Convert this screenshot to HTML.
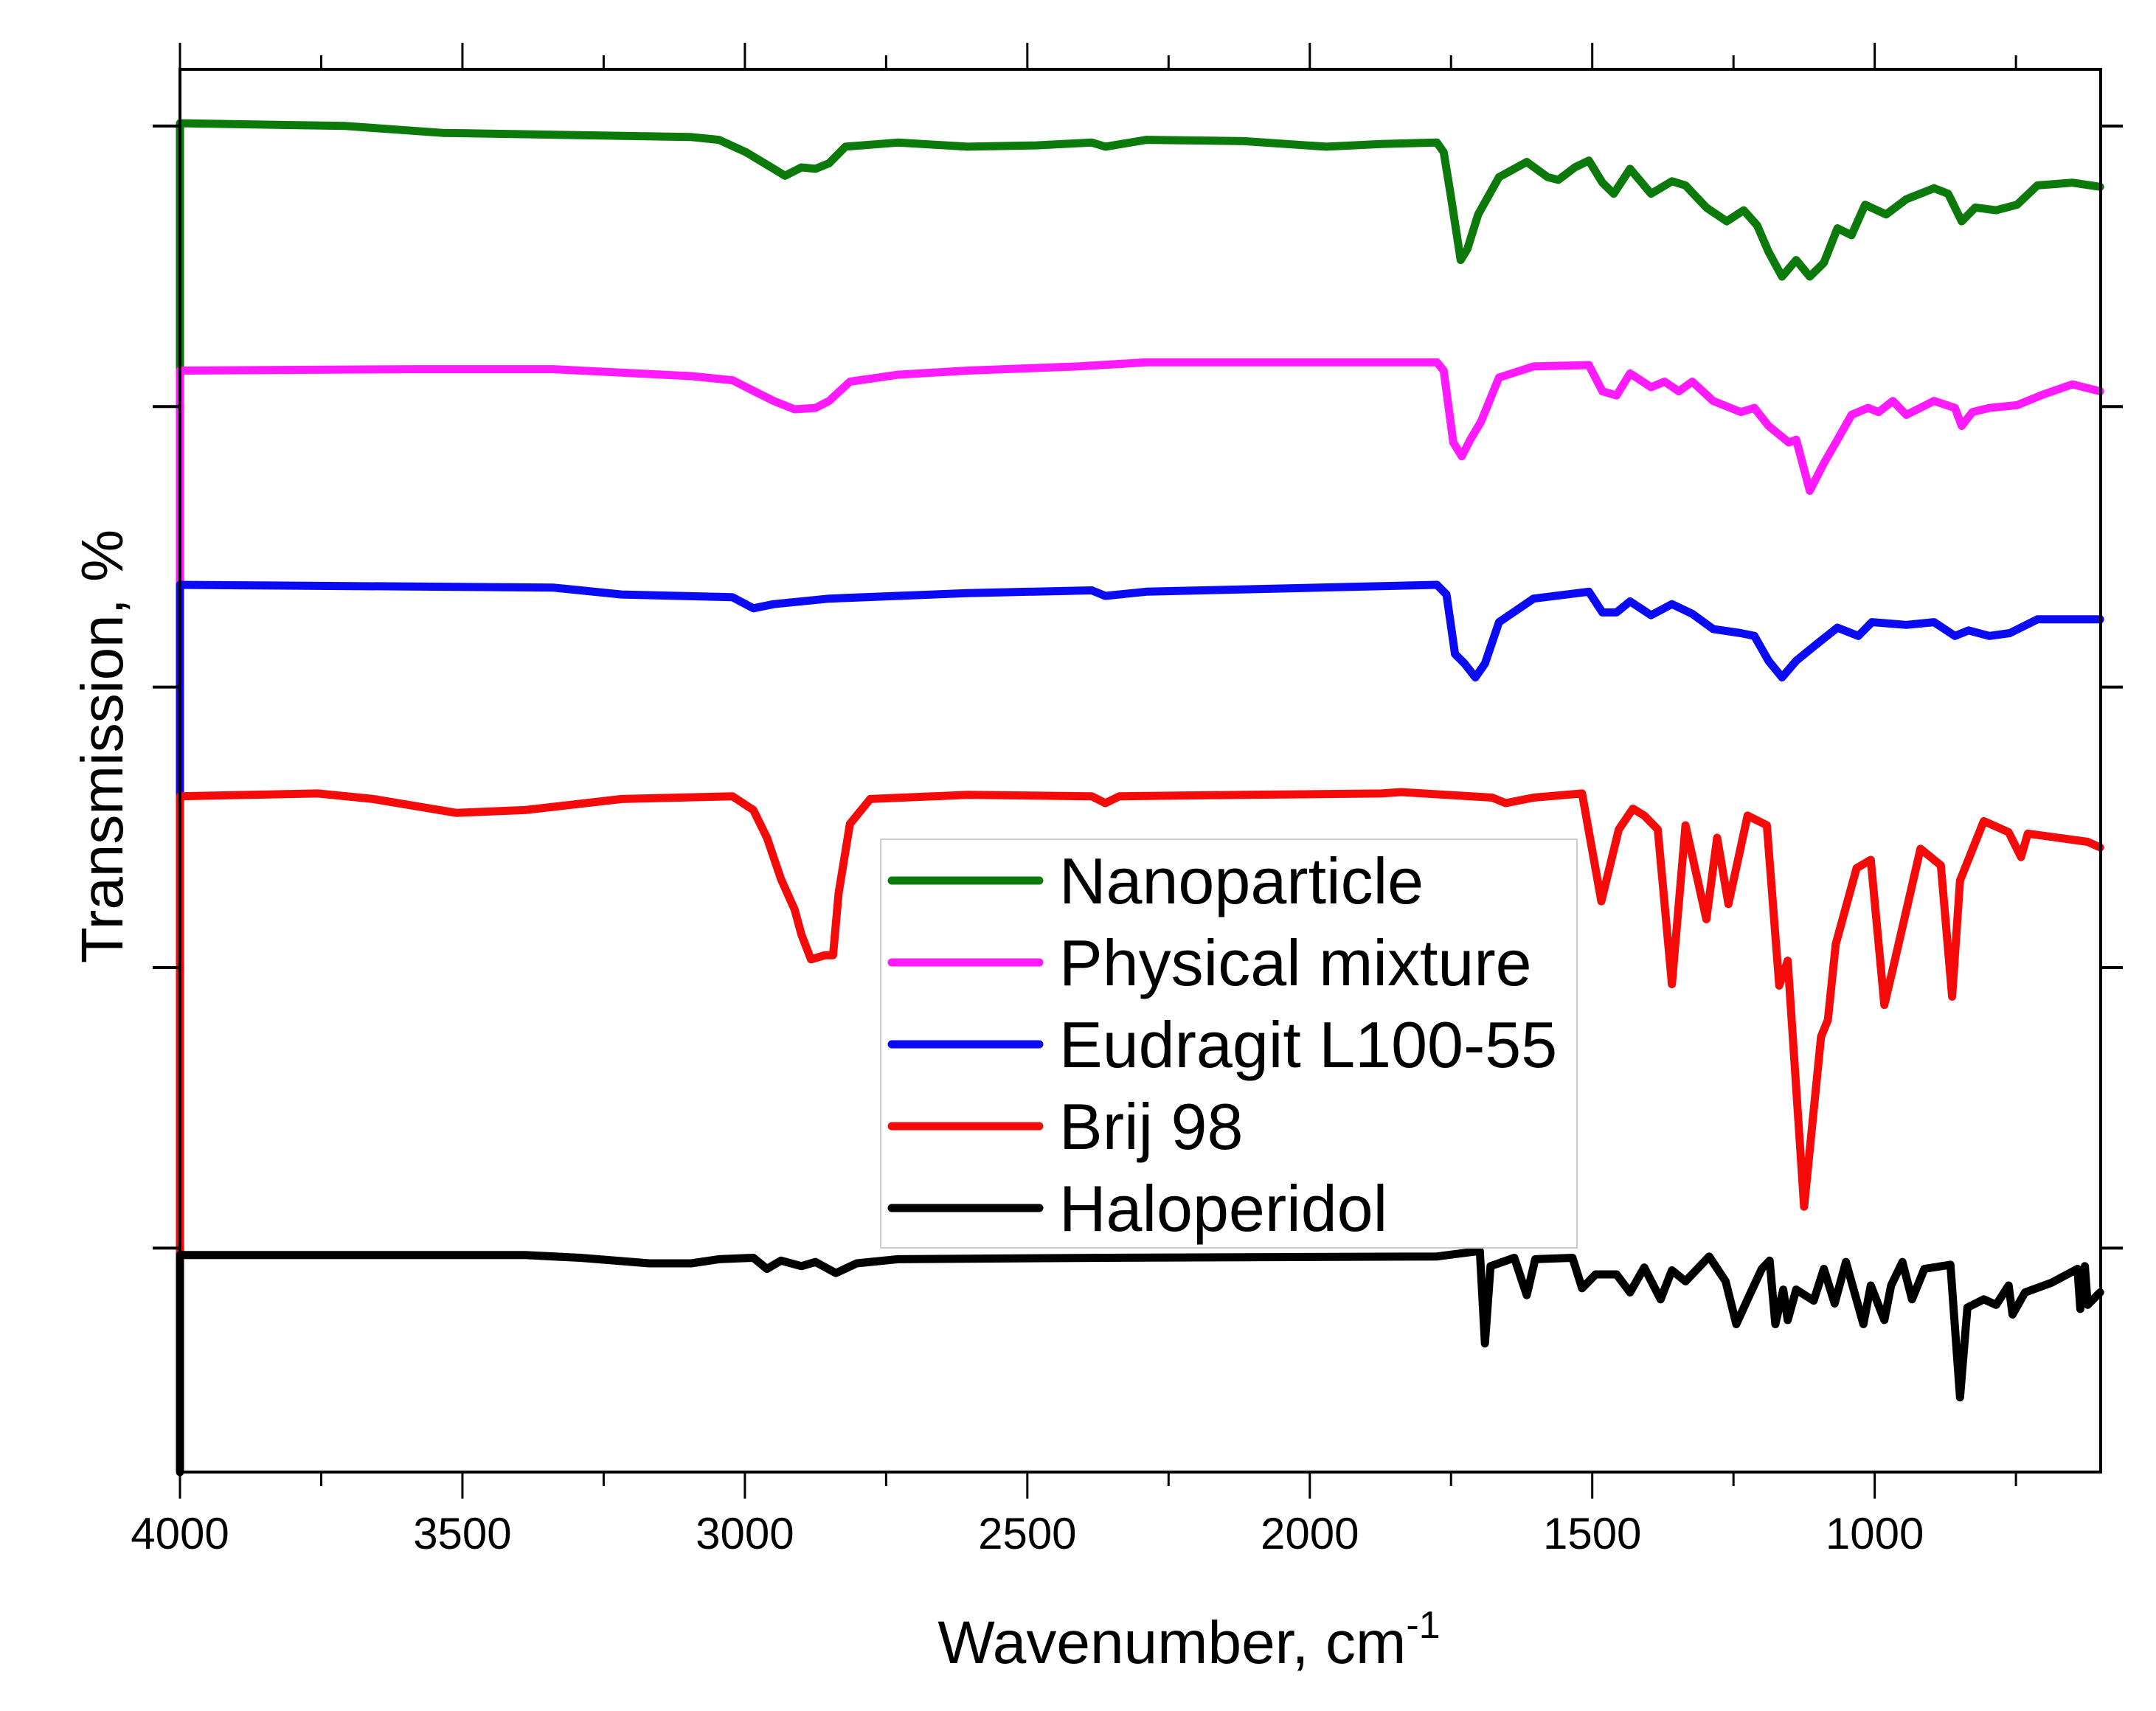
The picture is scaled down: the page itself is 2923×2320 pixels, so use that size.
<!DOCTYPE html>
<html><head><meta charset="utf-8">
<style>
html,body{margin:0;padding:0;background:#fff;}
svg{display:block;font-family:"Liberation Sans",Arial,sans-serif;}
</style></head>
<body>
<svg id="chart" width="2923" height="2320" viewBox="0 0 2923 2320" xmlns="http://www.w3.org/2000/svg">
<rect x="0" y="0" width="2923" height="2320" fill="#fff"/>
<g id="series"></g>
<g id="axes"></g>
<text x="1612" y="2255" text-anchor="middle" font-size="82">Wavenumber, cm<tspan dy="-34" font-size="52">-1</tspan></text>
<text transform="translate(166,1012) rotate(-90)" text-anchor="middle" font-size="80">Transmission, %</text>
<g id="legend"></g>
</svg>
<script>
const xTicksMajor = [4000,3500,3000,2500,2000,1500,1000];
const xTicksMinor = [3750,3250,2750,2250,1750,1250,750];
const yTicks = [974,771,568,365,162];
const seriesNames = ["Nanoparticle","Physical mixture","Eudragit L100-55","Brij 98","Haloperidol"];
const seriesColors = ["#0b7a0b","#ff1aff","#0a0af5","#f50a0a","#000000"];
const nanoparticle = [[4000,565],[4000,976],[3707,974],[3535,969],[3095,966],[3046,964],[2998,955],[2949,943],[2929,938],[2900,944],[2875,943],[2851,947],[2822,959],[2729,962],[2606,959],[2484,960],[2386,962],[2362,959],[2289,964],[2117,963],[1971,959],[1873,961],[1775,962],[1763,955],[1751,925],[1733,877],[1721,885],[1702,910],[1665,937],[1616,948],[1579,937],[1560,935],[1531,944],[1506,949],[1482,933],[1462,925],[1433,943],[1396,925],[1359,934],[1335,931],[1298,915],[1262,905],[1232,913],[1208,902],[1188,883],[1164,865],[1139,877],[1115,865],[1090,875],[1066,900],[1041,895],[1017,917],[980,910],[944,921],[895,929],[870,925],[846,905],[822,915],[785,913],[748,917],[712,931],[650,933],[601,930]];
const physicalMixture = [[4000,405],[4000,797],[3584,798],[3340,798],[3095,793],[3022,790],[2949,775],[2912,769],[2875,770],[2851,775],[2814,789],[2729,794],[2606,797],[2411,800],[2289,803],[1775,803],[1763,797],[1746,745],[1731,735],[1716,747],[1697,760],[1665,792],[1604,800],[1506,801],[1482,782],[1457,779],[1433,795],[1396,785],[1372,789],[1347,782],[1323,789],[1286,775],[1237,767],[1213,770],[1188,757],[1152,745],[1139,747],[1115,710],[1090,730],[1066,747],[1041,765],[1012,770],[993,767],[968,775],[944,765],[895,775],[858,770],[846,757],[827,767],[797,770],[748,772],[700,780],[650,787],[601,782]];
const eudragit = [[4000,240],[4000,642],[3340,640],[3218,635],[3022,633],[2985,625],[2949,628],[2851,632],[2606,636],[2386,638],[2362,634],[2289,637],[1775,642],[1758,635],[1743,592],[1726,585],[1707,575],[1690,585],[1665,615],[1604,632],[1506,637],[1482,622],[1457,622],[1433,630],[1396,620],[1359,628],[1323,621],[1286,610],[1237,607],[1213,605],[1188,587],[1164,575],[1139,587],[1103,599],[1066,611],[1029,605],[1005,615],[944,613],[895,615],[858,605],[834,609],[797,605],[761,607],[712,617],[601,617]];
const brij98 = [[4000,75],[4000,489],[3756,491],[3658,487],[3511,477],[3389,479],[3218,487],[3022,489],[2985,479],[2961,459],[2936,429],[2912,407],[2900,389],[2883,371],[2858,374],[2844,374],[2834,419],[2814,469],[2778,487],[2606,490],[2386,489],[2362,484],[2337,489],[2117,490],[1873,491],[1839,492],[1677,488],[1653,484],[1604,488],[1518,491],[1484,413],[1453,465],[1428,480],[1408,475],[1384,465],[1359,353],[1335,468],[1298,400],[1279,459],[1259,411],[1225,475],[1191,468],[1169,352],[1154,370],[1125,192],[1095,315],[1083,327],[1069,382],[1032,437],[1007,443],[983,338],[968,364],[919,451],[883,439],[863,344],[849,428],[807,471],[763,463],[741,445],[729,462],[623,456],[601,452]];
const haloperidol = [[4000,0],[4000,157],[3389,157],[3291,155],[3169,151],[3095,151],[3046,154],[2985,155],[2961,147],[2936,153],[2900,149],[2875,152],[2839,144],[2802,151],[2729,154],[2362,155],[1775,156],[1699,160],[1690,93],[1680,149],[1638,155],[1616,128],[1601,154],[1535,155],[1518,133],[1494,143],[1457,143],[1433,130],[1408,148],[1379,125],[1359,146],[1335,138],[1293,156],[1264,138],[1245,107],[1225,125],[1200,147],[1186,153],[1176,107],[1162,132],[1154,110],[1139,132],[1108,124],[1090,147],[1071,122],[1051,152],[1020,107],[1007,135],[983,110],[971,135],[951,152],[934,125],[912,147],[866,150],[849,54],[836,119],[807,125],[785,121],[763,135],[756,114],[734,130],[687,137],[641,147],[636,118],[628,149],[623,121],[601,130]];
const allSeries = [nanoparticle, physicalMixture, eudragit, brij98, haloperidol];
const seriesKeys = ["nanoparticle","physical-mixture","eudragit","brij-98","haloperidol"];

const L=244,R=2848,T=94,B=1996;
const X0=4000,X1=600,Y0=0,Y1=1015;
function xs(w){return L+(X0-w)/(X0-X1)*(R-L);}
function ys(v){return B-(v-Y0)/(Y1-Y0)*(B-T);}
const NS="http://www.w3.org/2000/svg";
function mk(tag,attrs,parent){const e=document.createElementNS(NS,tag);for(const k in attrs)e.setAttribute(k,attrs[k]);parent.appendChild(e);return e;}

const sg=document.getElementById('series');
allSeries.forEach((s,i)=>{
  const d=s.map((p,j)=>(j?'L':'M')+xs(p[0]).toFixed(1)+','+ys(p[1]).toFixed(1)).join('');
  const p=mk('path',{d:d,fill:'none',stroke:seriesColors[i],'stroke-width':11,'stroke-linejoin':'round','stroke-linecap':'round'},sg);
  
  
});

const ax=document.getElementById('axes');
const frame=mk('rect',{x:L,y:T,width:R-L,height:B-T,fill:'none',stroke:'#000','stroke-width':4},ax);


xTicksMajor.forEach(w=>{
  const x=xs(w);
  const t1=mk('line',{x1:x,y1:T,x2:x,y2:T-36,stroke:'#000','stroke-width':3},ax);
  
  
  const t2=mk('line',{x1:x,y1:B,x2:x,y2:B+36,stroke:'#000','stroke-width':3},ax);
  
  
  const lb=mk('text',{x:x,y:B+104,'text-anchor':'middle','font-size':60},ax);
  lb.textContent=w;
  
  
});
xTicksMinor.forEach(w=>{
  const x=xs(w);
  const t1=mk('line',{x1:x,y1:T,x2:x,y2:T-19,stroke:'#000','stroke-width':3},ax);
  
  
  const t2=mk('line',{x1:x,y1:B,x2:x,y2:B+19,stroke:'#000','stroke-width':3},ax);
  
  
});
yTicks.forEach(v=>{
  const y=ys(v);
  const t1=mk('line',{x1:L,y1:y,x2:L-37,y2:y,stroke:'#000','stroke-width':4},ax);
  
  
  const t2=mk('line',{x1:R,y1:y,x2:R+30,y2:y,stroke:'#000','stroke-width':4},ax);
  
  
});

const lg=document.getElementById('legend');
const box=mk('rect',{x:1194,y:1138,width:944,height:554,fill:'#fff',stroke:'#ccc','stroke-width':2},lg);


seriesNames.forEach((n,i)=>{
  const y=1194+i*111;
  const ln=mk('line',{x1:1209,y1:y,x2:1409,y2:y,stroke:seriesColors[i],'stroke-width':11,'stroke-linecap':'round'},lg);
  
  
  const tx=mk('text',{x:1436,y:y+31,'font-size':88},lg);
  tx.textContent=n;
  
  
});
</script>
</body></html>
